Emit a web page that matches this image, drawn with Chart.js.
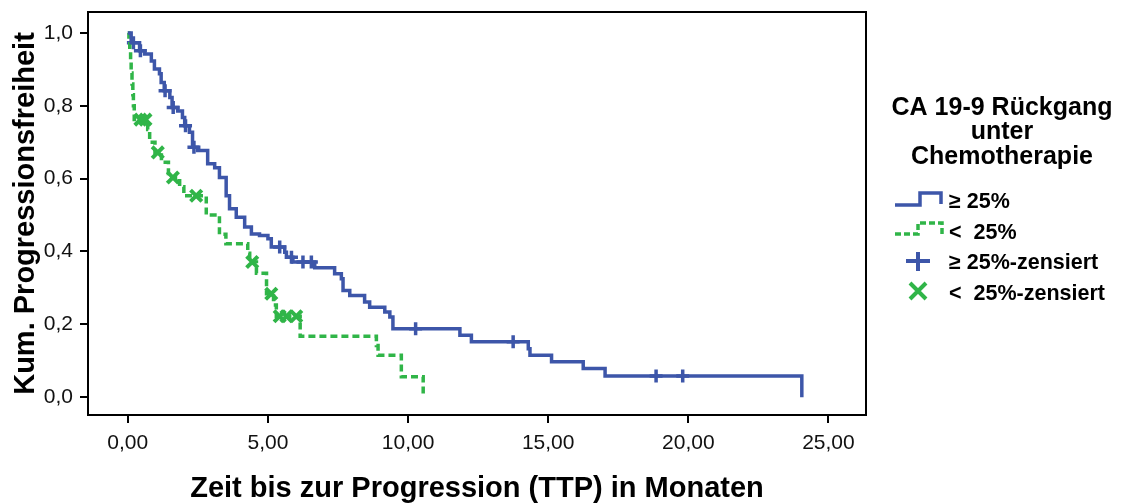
<!DOCTYPE html>
<html>
<head>
<meta charset="utf-8">
<script src="https://cdn.jsdelivr.net/npm/chart.js@4.4.1/dist/chart.umd.min.js"></script>
<style>
  html, body { margin: 0; padding: 0; background: #fff; }
  #wrap { position: relative; width: 1137px; height: 504px; }
</style>
</head>
<body>
<div id="wrap"><canvas id="c" width="1137" height="504"></canvas></div>
<script>
// ---- Data ----
const xTickValues = [0, 5, 10, 15, 20, 25];
const yTickValues = [0, 0.2, 0.4, 0.6, 0.8, 1.0];

// Group ">= 25%": event times (months) and survival after each step
const blueTimes = [0, 0.12, 0.42, 0.6, 0.84, 0.95, 1.13, 1.19, 1.3, 1.5, 1.58, 1.78, 1.95, 2.03, 2.2, 2.31, 2.49, 2.85, 3.1, 3.27, 3.51, 3.63, 3.87, 4.17, 4.41, 4.7, 5.0, 5.12, 5.6, 5.66, 5.89, 6.67, 7.38, 7.62, 7.68, 7.92, 8.45, 8.63, 9.17, 9.35, 9.46, 11.85, 12.26, 14.29, 14.35, 15.12, 16.25, 17.03, 24.05];
const blueSurv  = [1.0, 0.973, 0.951, 0.942, 0.923, 0.901, 0.888, 0.864, 0.841, 0.823, 0.795, 0.786, 0.768, 0.745, 0.727, 0.686, 0.677, 0.641, 0.630, 0.603, 0.553, 0.517, 0.494, 0.467, 0.448, 0.444, 0.435, 0.412, 0.398, 0.384, 0.371, 0.355, 0.339, 0.325, 0.293, 0.279, 0.261, 0.247, 0.234, 0.220, 0.188, 0.170, 0.152, 0.133, 0.115, 0.097, 0.079, 0.058, 0.0];
const blueCensTimes = [0.2, 0.45, 1.33, 1.62, 2.06, 2.36, 5.42, 5.84, 6.25, 6.55, 10.27, 13.75, 18.85, 19.8];
const blueCensSurv  = [0.973, 0.951, 0.841, 0.795, 0.745, 0.686, 0.412, 0.384, 0.371, 0.371, 0.188, 0.152, 0.058, 0.058];

// Group "< 25%"
const greenTimes = [0, 0.04, 0.07, 0.1, 0.12, 0.15, 0.18, 0.2, 0.23, 0.71, 0.78, 0.97, 1.2, 1.45, 1.85, 2.0, 2.8, 3.27, 3.5, 4.28, 4.35, 4.59, 4.95, 5.2, 5.3, 6.15, 8.87, 8.93, 9.76, 10.54];
const greenSurv  = [1.0, 0.98, 0.95, 0.92, 0.89, 0.86, 0.83, 0.80, 0.762, 0.735, 0.70, 0.672, 0.645, 0.603, 0.578, 0.553, 0.50, 0.447, 0.421, 0.395, 0.371, 0.34, 0.284, 0.253, 0.222, 0.167, 0.142, 0.115, 0.056, 0.0];
const greenCensTimes = [0.45, 0.63, 1.07, 1.61, 2.44, 4.44, 5.12, 5.42, 5.66, 6.01];
const greenCensSurv  = [0.762, 0.762, 0.672, 0.603, 0.553, 0.371, 0.284, 0.222, 0.222, 0.222];

const legendTitle = ['CA 19-9 Rückgang', 'unter', 'Chemotherapie'];
const legendLabels = ['\u2265 25%', '<  25%', '\u2265 25%-zensiert', '<  25%-zensiert'];
const xTitle = 'Zeit bis zur Progression (TTP) in Monaten';
const yTitle = 'Kum. Progressionsfreiheit';

// ---- Styles ----
const BLUE = '#3d56a9';
const GREEN = '#30b548';
const FONT = "'Liberation Sans', Arial, sans-serif";

const toXY = (xs, ys) => xs.map((x, i) => ({ x: x, y: ys[i] }));

const framePlugin = {
  id: 'frame',
  afterDatasetsDraw(chart) {
    const { ctx, chartArea: a } = chart;
    ctx.save();
    ctx.strokeStyle = '#000';
    ctx.lineWidth = 2;
    ctx.strokeRect(a.left, a.top, a.right - a.left, a.bottom - a.top);
    ctx.restore();
  }
};

const legendPlugin = {
  id: 'kmLegend',
  afterDraw(chart) {
    const ctx = chart.ctx;
    ctx.save();
    ctx.fillStyle = '#000';
    ctx.textAlign = 'center';
    ctx.textBaseline = 'alphabetic';
    ctx.font = 'bold 25px ' + FONT;
    const tx = 1002;
    [115, 139, 164].forEach((y, i) => ctx.fillText(legendTitle[i], tx, y));

    // blue step icon
    ctx.lineWidth = 3.5;
    ctx.strokeStyle = BLUE;
    ctx.beginPath();
    ctx.moveTo(895, 205); ctx.lineTo(920, 205); ctx.lineTo(920, 193); ctx.lineTo(941, 193); ctx.lineTo(941, 204);
    ctx.stroke();
    // green dashed step icon
    ctx.strokeStyle = GREEN;
    ctx.setLineDash([6, 3]);
    ctx.beginPath();
    ctx.moveTo(895, 234); ctx.lineTo(918, 234); ctx.lineTo(918, 223); ctx.lineTo(942, 223); ctx.lineTo(942, 235);
    ctx.stroke();
    ctx.setLineDash([]);
    // blue plus
    ctx.strokeStyle = BLUE;
    ctx.lineWidth = 4;
    ctx.beginPath();
    ctx.moveTo(906, 261); ctx.lineTo(930, 261);
    ctx.moveTo(918, 252); ctx.lineTo(918, 271);
    ctx.stroke();
    // green x
    ctx.strokeStyle = GREEN;
    ctx.beginPath();
    ctx.moveTo(910, 283); ctx.lineTo(926, 299);
    ctx.moveTo(926, 283); ctx.lineTo(910, 299);
    ctx.stroke();

    ctx.textAlign = 'left';
    ctx.font = 'bold 21.5px ' + FONT;
    const ys = [208, 239, 269, 300];
    legendLabels.forEach((t, i) => ctx.fillText(t, 949, ys[i]));
    ctx.restore();
  }
};

new Chart(document.getElementById('c'), {
  type: 'line',
  data: {
    datasets: [
      {
        label: legendLabels[0],
        data: toXY(blueTimes, blueSurv),
        borderColor: BLUE, borderWidth: 3.5, stepped: 'before', pointRadius: 0, fill: false, tension: 0
      },
      {
        label: legendLabels[1],
        data: toXY(greenTimes, greenSurv),
        borderColor: GREEN, borderWidth: 3.5, borderDash: [7, 4], stepped: 'before', pointRadius: 0, fill: false, tension: 0
      },
      {
        label: legendLabels[2],
        data: toXY(blueCensTimes, blueCensSurv),
        showLine: false, pointStyle: 'cross', pointRadius: 6.5, pointBorderWidth: 3.5, borderColor: BLUE, backgroundColor: BLUE
      },
      {
        label: legendLabels[3],
        data: toXY(greenCensTimes, greenCensSurv),
        showLine: false, pointStyle: 'crossRot', pointRadius: 8, pointBorderWidth: 4, borderColor: GREEN, backgroundColor: GREEN
      }
    ]
  },
  options: {
    responsive: false,
    animation: false,
    layout: { padding: { left: 0, top: 11, right: 271, bottom: 0 } },
    plugins: { legend: { display: false }, tooltip: { enabled: false } },
    scales: {
      x: {
        type: 'linear', min: -1.42, max: 26.34,
        afterBuildTicks: (s) => { s.ticks = xTickValues.map(v => ({ value: v })); },
        afterFit: (s) => { s.height = 89; s.paddingLeft = 0; s.paddingRight = 0; },
        border: { display: false },
        grid: { drawOnChartArea: false, drawTicks: true, tickLength: 8, tickWidth: 2, tickColor: '#000', color: '#000', lineWidth: 2 },
        ticks: {
          color: '#111', font: { family: FONT, size: 21 }, padding: 8, maxRotation: 0, autoSkip: false,
          callback: (v) => Number(v).toFixed(2).replace('.', ',')
        },
        title: { display: true, text: xTitle, color: '#000', font: { family: FONT, size: 29, weight: 'bold' }, padding: { top: 0, bottom: -2 } }
      },
      y: {
        type: 'linear', min: -0.049, max: 1.0575,
        afterBuildTicks: (s) => { s.ticks = yTickValues.map(v => ({ value: v })); },
        afterFit: (s) => { s.width = 88; s.paddingTop = 0; s.paddingBottom = 0; },
        border: { display: false },
        grid: { drawOnChartArea: false, drawTicks: true, tickLength: 8, tickWidth: 2, tickColor: '#000', color: '#000', lineWidth: 2 },
        ticks: {
          color: '#111', font: { family: FONT, size: 21 }, padding: 7, autoSkip: false,
          callback: (v) => Number(v).toFixed(1).replace('.', ',')
        },
        title: { display: true, text: yTitle, color: '#000', font: { family: FONT, size: 29, weight: 'bold' }, padding: { top: 9, bottom: 0 } }
      }
    }
  },
  plugins: [framePlugin, legendPlugin]
});
</script>
</body>
</html>
